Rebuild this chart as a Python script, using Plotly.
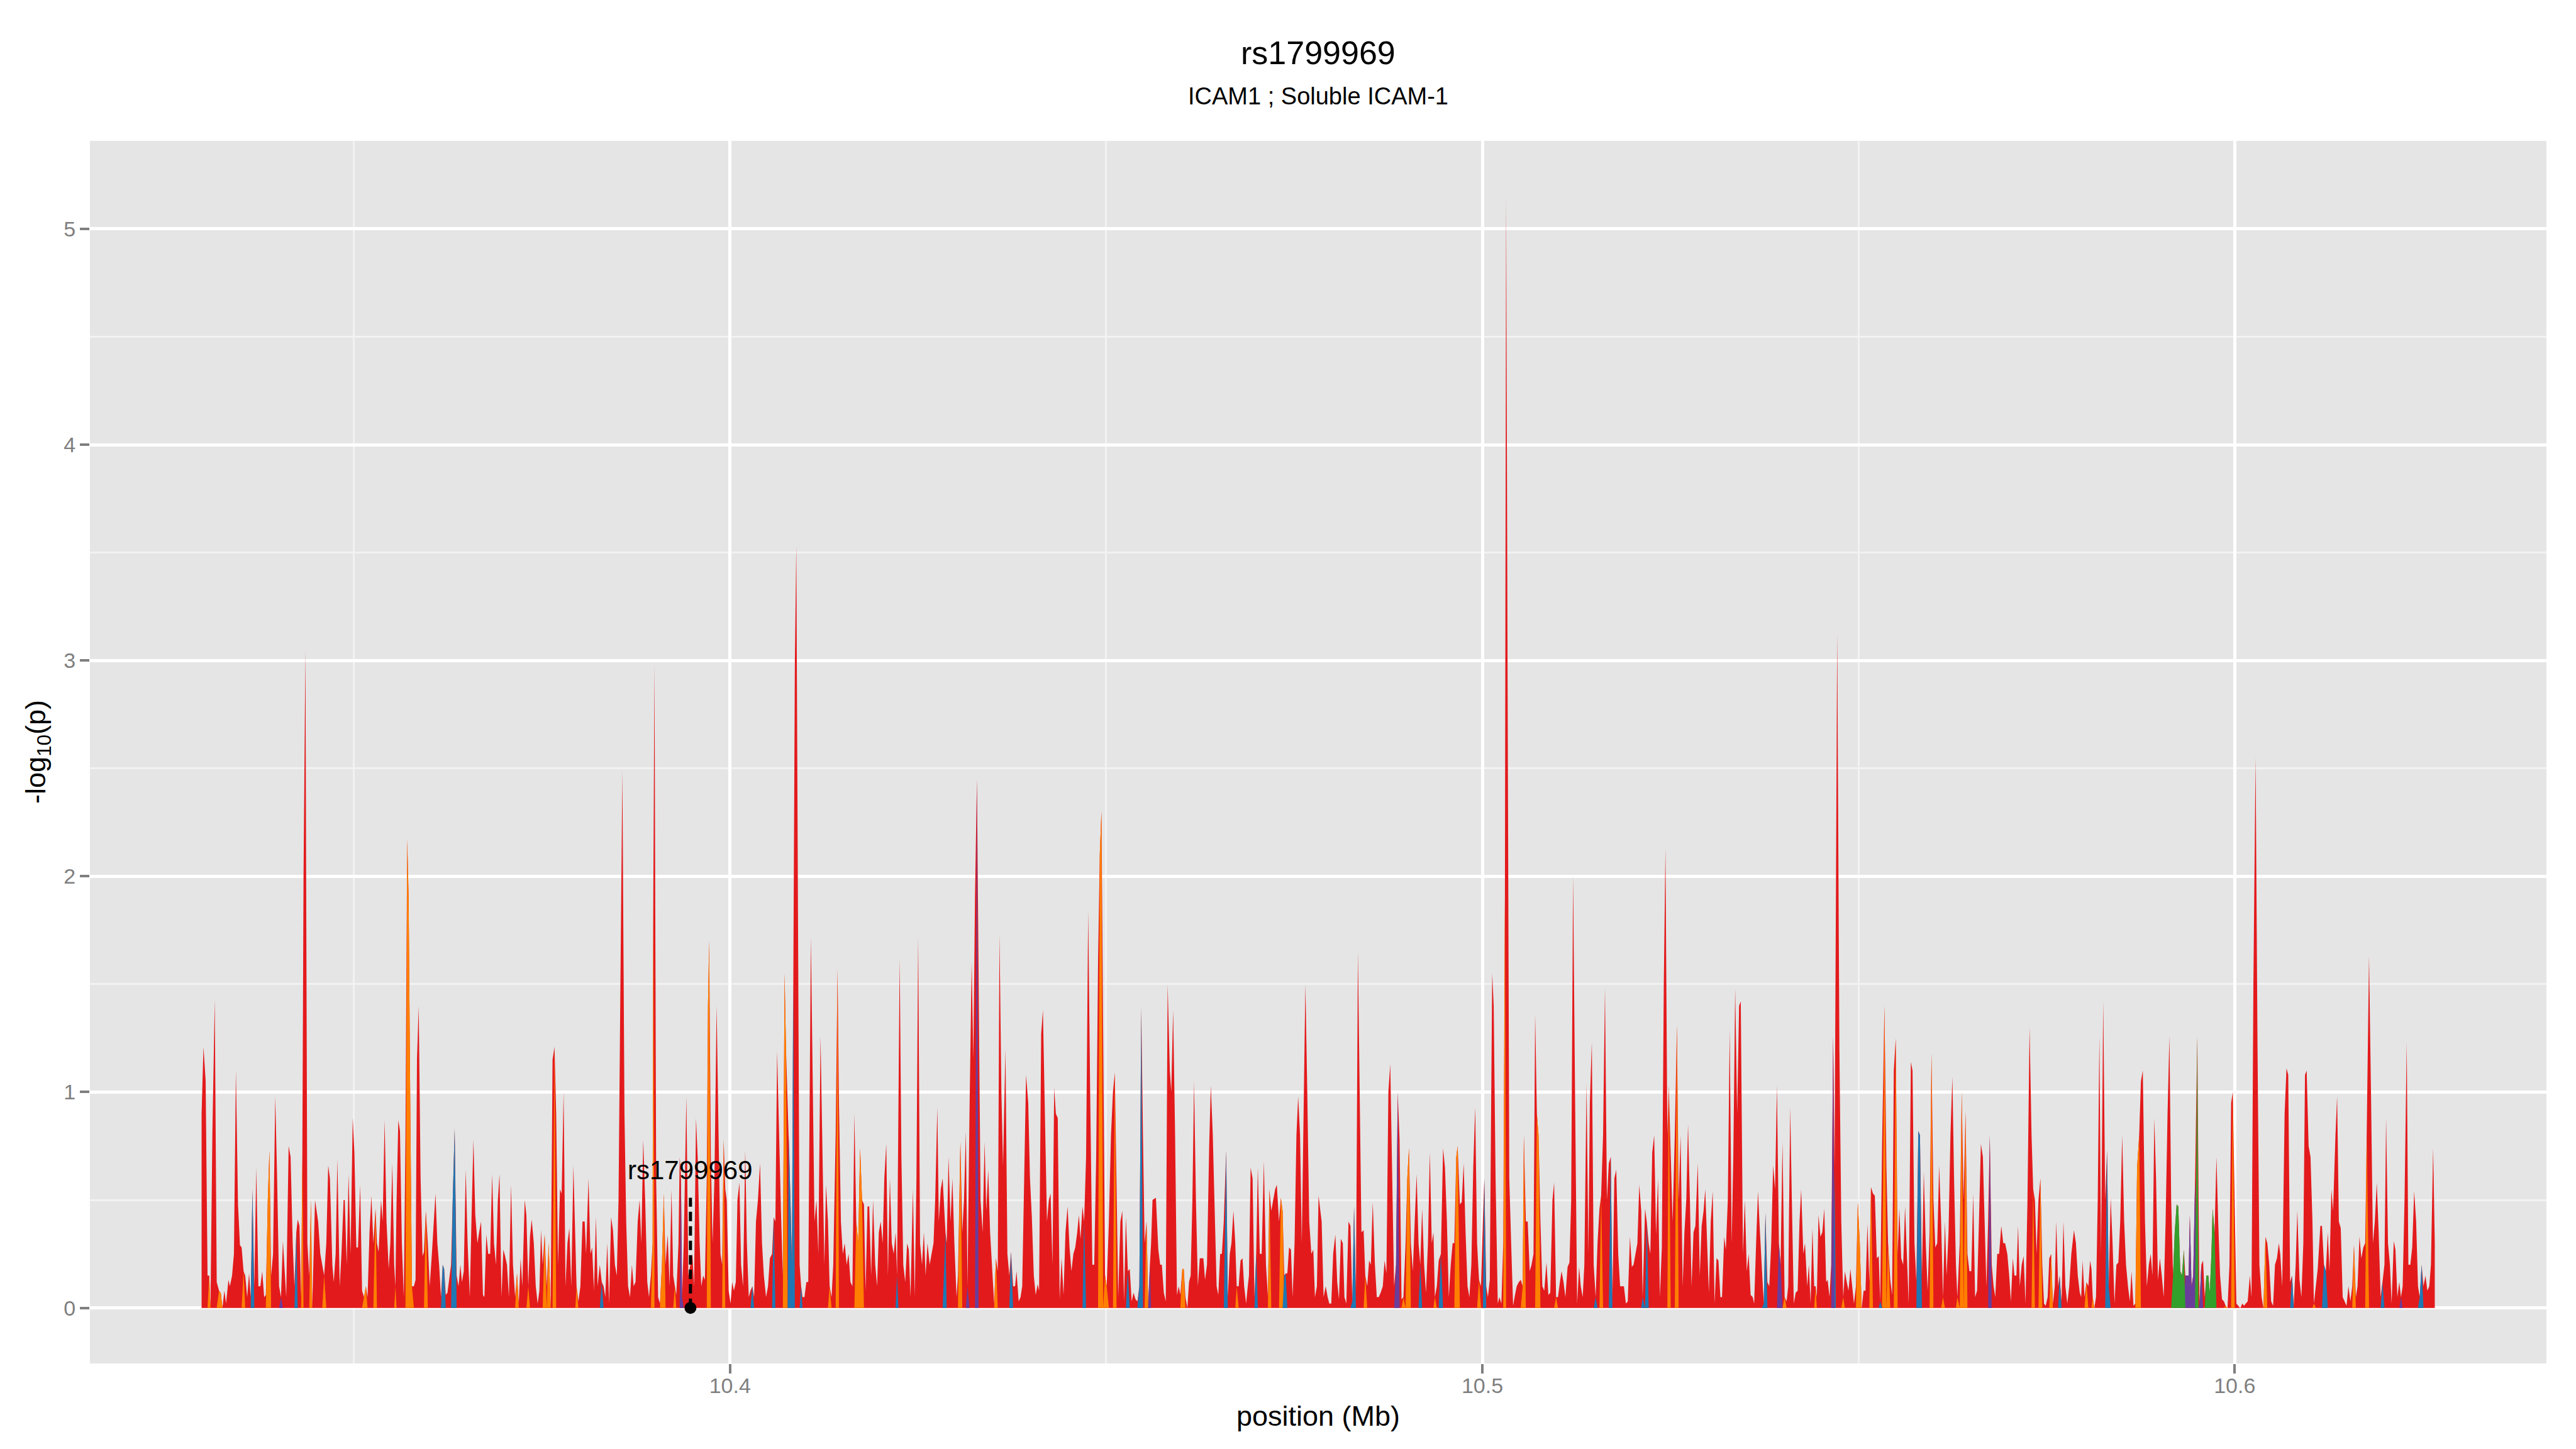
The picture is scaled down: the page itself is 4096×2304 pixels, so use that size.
import plotly.graph_objects as go

# ---------------- data (position in kb past 10 Mb, -log10(p)) ----------------
snps_328_378 = [(329.76,0.90),(330.01,1.21),(330.30,1.05),(330.55,0.15),(330.78,0.15),(330.94,0.00),(331.19,0.80),(331.51,1.43),(331.77,0.12),(332.08,0.08),(332.31,0.07),(332.53,0.00),(332.79,0.08),(333.01,0.02),(333.33,0.13),(333.52,0.10),(333.81,0.15),(334.06,0.25),(334.32,1.10),(334.60,0.48),(334.86,0.29),(335.08,0.28),(335.34,0.17),(335.56,0.15),(335.82,0.05),(336.07,0.16),(336.29,0.05),(336.52,0.55),(336.77,0.10),(337.03,0.65),(337.31,0.10),(337.57,0.10),(337.82,0.17),(338.08,0.05),(338.30,0.06),(338.56,0.50),(338.78,0.73),(339.00,0.15),(339.26,0.25),(339.55,0.98),(339.80,0.60),(340.06,0.10),(340.31,0.05),(340.57,0.31),(341.01,0.05),(341.33,0.75),(341.59,0.70),(341.87,0.30),(342.10,0.10),(342.35,0.35),(342.54,0.41),(342.77,0.38),(342.99,0.05),(343.15,0.70),(343.31,2.00),(343.56,3.05),(343.82,0.30),(344.07,0.15),(344.30,0.50),(344.46,0.00),(344.84,0.50),(345.25,0.40),(345.54,0.25),(345.80,0.20),(346.05,0.15),(346.34,0.30),(346.59,0.66),(346.82,0.60),(347.14,0.20),(347.33,0.12),(347.58,0.25),(347.81,0.69),(348.12,0.10),(348.35,0.25),(348.64,0.50),(348.79,0.50),(349.05,0.20),(349.30,0.62),(349.56,0.25),(349.85,0.88),(350.07,0.72),(350.33,0.28),(350.55,0.28),(350.84,0.57),(351.09,0.08),(351.35,0.05),(351.60,0.10),(351.82,0.05),(352.08,0.35),(352.33,0.52),(352.59,0.30),(352.88,0.46),(353.07,0.30),(353.29,0.26),(353.61,0.50),(353.83,0.40),(354.09,0.87),(354.34,0.40),(354.63,0.18),(354.85,0.30),(355.11,0.67),(355.36,0.20),(355.52,0.10),(355.68,0.50),(355.91,0.87),(356.13,0.82),(356.38,0.30),(356.64,0.05),(356.86,0.80),(357.09,2.17),(357.28,1.90),(357.53,0.80),(357.72,0.10),(357.98,0.10),(358.20,0.13),(358.39,1.15),(358.62,1.40),(358.87,0.60),(359.13,0.24),(359.32,0.26),(359.57,0.45),(359.83,0.30),(360.08,0.10),(360.37,0.25),(360.63,0.42),(360.85,0.53),(361.10,0.30),(361.33,0.20),(361.58,0.05),(361.81,0.20),(362.00,0.18),(362.22,0.06),(362.44,0.07),(362.70,0.15),(362.92,0.20),(363.14,0.50),(363.40,0.83),(363.66,0.15),(363.91,0.10),(364.17,0.20),(364.36,0.12),(364.61,0.17),(364.87,0.64),(365.12,0.30),(365.41,0.05),(365.63,0.40),(365.89,0.78),(366.14,0.43),(366.43,0.30),(366.65,0.35),(366.91,0.40),(367.16,0.06),(367.35,0.05),(367.61,0.34),(367.86,0.25),(368.12,0.25),(368.38,0.62),(368.63,0.30),(368.89,0.20),(369.14,0.50),(369.36,0.62),(369.62,0.05),(369.87,0.27),(370.10,0.24),(370.35,0.20),(370.61,0.05),(370.89,0.57),(371.15,0.20),(371.44,0.05),(371.69,0.16),(371.92,0.02),(372.17,0.23),(372.39,0.10),(372.71,0.50),(372.93,0.43),(373.19,0.10),(373.41,0.33),(373.64,0.41),(373.92,0.30),(374.18,0.10),(374.43,0.02),(374.66,0.08),(374.88,0.36),(375.10,0.20),(375.36,0.34),(375.64,0.10),(375.90,0.30),(376.16,0.00),(376.41,1.15),(376.67,1.21),(376.89,0.90),(377.14,0.20),(377.40,0.55),(377.62,0.53),(377.88,1.00),(378.13,0.10),(378.39,0.30)]

snps_378_428 = [(378.64,0.37),(378.90,0.10),(379.18,0.66),(379.44,0.35),(379.60,0.10),(379.85,0.03),(380.11,0.10),(380.39,0.40),(380.68,0.40),(380.87,0.25),(381.19,0.60),(381.45,0.25),(381.67,0.28),(381.92,0.08),(382.18,0.42),(382.40,0.10),(382.69,0.20),(382.95,0.12),(383.20,0.10),(383.42,0.05),(383.68,0.30),(383.93,0.02),(384.19,0.42),(384.44,0.36),(384.70,0.20),(384.95,0.15),(385.18,0.50),(385.43,1.50),(385.69,2.49),(385.97,0.90),(386.20,0.40),(386.45,0.10),(386.71,0.05),(386.96,0.20),(387.19,0.10),(387.44,0.12),(387.73,0.40),(387.98,0.50),(388.21,0.30),(388.46,0.78),(388.72,0.50),(389.00,0.12),(389.23,0.05),(389.48,0.15),(389.71,0.30),(389.80,1.90),(389.96,2.98),(390.18,0.60),(390.44,0.05),(390.69,0.02),(390.95,0.20),(391.20,0.53),(391.43,0.20),(391.71,0.34),(391.97,0.10),(392.22,0.55),(392.45,0.15),(392.67,0.10),(392.86,0.06),(393.15,0.30),(393.31,0.70),(393.47,0.62),(393.63,0.05),(393.85,0.30),(394.20,0.98),(394.46,0.15),(394.74,0.20),(395.00,0.25),(395.22,0.10),(395.48,0.88),(395.70,0.70),(395.96,0.30),(396.18,0.10),(396.43,0.15),(396.66,0.13),(396.91,0.60),(397.07,1.40),(397.23,1.70),(397.45,0.70),(397.68,0.30),(397.93,0.60),(398.22,1.40),(398.48,0.80),(398.73,0.25),(398.95,0.20),(399.15,0.78),(399.37,0.55),(399.56,0.50),(399.82,0.08),(400.07,0.02),(400.29,0.12),(400.52,0.08),(400.77,0.12),(400.99,0.50),(401.25,0.58),(401.47,0.20),(401.73,0.10),(402.02,0.73),(402.24,0.30),(402.49,0.05),(402.72,0.08),(402.97,0.10),(403.20,0.05),(403.45,0.40),(403.71,0.50),(403.99,0.67),(404.25,0.30),(404.50,0.15),(404.79,0.05),(405.05,0.10),(405.30,0.23),(405.59,0.25),(405.81,0.42),(406.03,0.40),(406.26,1.19),(406.51,0.80),(406.77,0.45),(407.02,0.15),(407.25,1.55),(407.44,1.20),(407.66,0.95),(407.82,0.80),(408.04,0.50),(408.23,0.20),(408.39,1.50),(408.62,3.00),(408.81,3.53),(409.00,2.00),(409.25,0.20),(409.45,0.10),(409.64,0.05),(409.89,0.05),(410.15,0.12),(410.40,0.12),(410.75,1.72),(411.01,1.00),(411.23,0.40),(411.49,0.50),(411.74,0.25),(412.03,1.26),(412.28,0.70),(412.54,0.20),(412.76,0.57),(413.02,0.40),(413.24,0.10),(413.50,0.05),(413.72,0.20),(414.04,0.80),(414.29,1.57),(414.48,0.95),(414.74,0.40),(414.99,0.25),(415.25,0.30),(415.50,0.20),(415.76,0.25),(416.01,0.12),(416.27,0.10),(416.53,0.90),(416.78,0.40),(417.04,0.30),(417.29,0.74),(417.55,0.50),(417.80,0.48),(418.02,0.08),(418.28,0.47),(418.50,0.47),(418.76,0.15),(419.01,0.50),(419.30,0.20),(419.55,0.10),(419.78,0.35),(420.03,0.40),(420.29,0.30),(420.51,0.60),(420.77,0.76),(420.99,0.15),(421.25,0.60),(421.50,0.30),(421.76,0.25),(422.01,0.35),(422.20,0.15),(422.39,0.90),(422.55,1.62),(422.78,0.70),(423.03,0.20),(423.29,0.12),(423.54,0.30),(423.76,0.27),(423.99,0.05),(424.31,0.55),(424.56,0.05),(424.78,0.60),(425.01,1.72),(425.26,0.30),(425.52,0.20),(425.77,0.35),(426.00,0.15),(426.25,0.30),(426.54,0.20),(426.79,0.25),(427.05,0.30),(427.27,0.50),(427.56,0.93),(427.75,0.40),(428.01,0.55),(428.26,0.60)]

snps_428_478 = [(428.64,0.35),(428.80,0.30),(429.05,0.70),(429.31,0.40),(429.56,0.60),(429.82,0.30),(430.11,0.05),(430.30,0.15),(430.49,0.50),(430.62,0.77),(430.87,0.35),(431.10,0.50),(431.35,0.82),(431.57,0.10),(431.83,0.90),(432.12,1.60),(432.34,1.15),(432.56,1.90),(432.82,2.45),(433.04,1.60),(433.30,0.50),(433.58,0.35),(433.84,0.77),(434.06,0.45),(434.32,0.64),(434.57,0.35),(434.86,0.15),(435.11,0.02),(435.34,0.23),(435.59,0.17),(435.82,1.73),(436.07,1.00),(436.29,0.66),(436.61,1.20),(436.87,0.25),(437.12,0.15),(437.35,0.26),(437.63,0.10),(437.89,0.10),(438.08,0.17),(438.37,0.03),(438.62,0.05),(438.84,0.10),(439.10,0.60),(439.35,1.08),(439.64,0.95),(439.87,0.60),(440.12,0.42),(440.38,0.15),(440.63,0.06),(440.89,0.11),(441.08,0.08),(441.36,1.27),(441.59,1.38),(441.84,0.90),(442.13,0.40),(442.38,0.50),(442.61,0.53),(442.86,0.20),(443.09,1.02),(443.31,0.90),(443.56,0.88),(443.82,0.04),(444.07,0.23),(444.33,0.06),(444.59,0.35),(444.87,0.47),(445.13,0.28),(445.38,0.17),(445.64,0.25),(445.89,0.28),(446.15,0.35),(446.37,0.43),(446.59,0.32),(446.85,0.47),(447.07,0.40),(447.33,0.70),(447.61,1.84),(447.87,1.00),(448.16,0.20),(448.41,0.20),(448.67,0.70),(448.92,1.60),(449.15,2.10),(449.37,2.30),(449.59,1.20),(449.85,0.15),(450.07,0.10),(450.36,0.40),(450.64,0.80),(450.90,1.00),(451.15,1.09),(451.38,0.60),(451.60,0.05),(451.89,0.40),(452.14,0.45),(452.37,0.03),(452.62,0.42),(452.88,0.17),(453.13,0.18),(453.39,0.03),(453.64,0.07),(453.90,0.04),(454.15,0.03),(454.41,0.10),(454.66,1.39),(454.89,0.80),(455.11,0.30),(455.36,0.40),(455.59,0.02),(455.81,0.20),(455.97,0.30),(456.16,0.50),(456.61,0.51),(456.93,0.27),(457.18,0.20),(457.40,0.20),(457.66,0.07),(457.92,0.03),(458.17,1.50),(458.46,1.10),(458.65,1.00),(458.90,1.38),(459.16,0.80),(459.41,0.06),(459.64,0.10),(459.86,0.06),(460.12,0.18),(460.31,0.18),(460.53,0.05),(460.79,0.00),(461.01,0.12),(461.23,0.15),(461.46,0.50),(461.68,1.05),(461.93,0.50),(462.19,0.10),(462.44,0.23),(462.70,0.23),(462.92,0.23),(463.14,0.13),(463.40,0.20),(463.69,0.75),(463.91,1.03),(464.17,0.80),(464.42,0.45),(464.68,0.10),(464.90,0.06),(465.15,0.25),(465.38,0.25),(465.63,0.40),(465.95,0.73),(466.17,0.05),(466.43,0.25),(466.65,0.30),(466.91,0.45),(467.16,0.30),(467.35,0.10),(467.61,0.10),(467.86,0.22),(468.12,0.23),(468.34,0.10),(468.60,0.02),(468.82,0.10),(468.98,0.15),(469.20,0.65),(469.46,0.60),(469.71,0.05),(469.94,0.25),(470.16,0.65),(470.42,0.25),(470.67,0.25),(470.96,0.68),(471.24,0.20),(471.50,0.05),(471.69,0.55),(471.95,0.45),(472.20,0.50),(472.46,0.55),(472.68,0.57),(472.97,0.40),(473.22,0.51),(473.45,0.45),(473.67,0.15),(473.86,0.16),(474.08,0.16),(474.31,0.28),(474.56,0.27),(474.78,0.05),(475.04,0.30),(475.29,0.80),(475.52,0.98),(475.77,0.80),(476.00,0.30),(476.22,0.90),(476.48,1.50),(476.73,1.00),(476.99,0.40),(477.27,0.25),(477.53,0.27),(477.75,0.05),(478.01,0.10),(478.23,0.52)]

snps_478_528 = [(478.64,0.40),(478.90,0.05),(479.18,0.10),(479.44,0.05),(479.66,0.02),(479.92,0.02),(480.17,0.25),(480.46,0.34),(480.71,0.12),(480.94,0.04),(481.19,0.32),(481.45,0.30),(481.67,0.05),(481.92,0.02),(482.21,0.40),(482.47,0.38),(482.72,0.03),(482.95,0.47),(483.20,0.08),(483.46,1.65),(483.68,1.00),(483.93,0.35),(484.22,0.36),(484.44,0.15),(484.70,0.10),(484.95,0.22),(485.18,0.20),(485.43,0.49),(485.72,0.20),(485.97,0.05),(486.23,0.05),(486.48,0.07),(486.77,0.10),(487.00,0.22),(487.25,0.16),(487.51,1.00),(487.76,1.13),(488.02,0.60),(488.27,0.10),(488.53,0.20),(488.75,1.00),(489.00,0.78),(489.26,0.04),(489.51,0.05),(489.80,0.30),(490.02,0.60),(490.25,0.74),(490.50,0.30),(490.76,0.17),(491.01,0.40),(491.27,0.62),(491.52,0.30),(491.75,0.20),(492.00,0.46),(492.26,0.20),(492.51,0.07),(492.77,0.30),(493.02,0.72),(493.28,0.30),(493.50,0.35),(493.69,0.05),(493.95,0.10),(494.20,0.22),(494.49,0.25),(494.78,0.74),(495.03,0.65),(495.29,0.40),(495.54,0.05),(495.80,0.20),(496.05,0.30),(496.28,0.30),(496.53,0.70),(496.72,0.75),(497.01,0.48),(497.26,0.49),(497.52,0.67),(497.77,0.35),(498.03,0.10),(498.28,0.05),(498.54,0.20),(498.79,0.65),(499.05,0.93),(499.30,0.30),(499.56,0.13),(499.82,0.10),(500.07,0.40),(500.26,0.60),(500.52,0.10),(500.74,0.05),(500.99,0.13),(501.31,1.55),(501.51,1.40),(501.76,0.60),(502.05,0.02),(502.27,0.05),(502.53,0.02),(502.78,0.30),(503.00,1.90),(503.16,5.15),(503.35,3.00),(503.58,0.60),(503.83,0.30),(504.09,0.01),(504.34,0.06),(504.57,0.10),(504.85,0.12),(505.11,0.13),(505.36,0.10),(505.52,0.80),(505.78,0.40),(506.03,0.40),(506.29,0.17),(506.54,0.20),(506.80,0.25),(507.02,1.36),(507.25,0.90),(507.47,0.80),(507.72,0.40),(507.98,0.10),(508.23,0.08),(508.52,0.21),(508.78,0.06),(509.03,0.07),(509.32,0.50),(509.54,0.58),(509.80,0.05),(510.05,0.05),(510.31,0.12),(510.53,0.17),(510.79,0.12),(511.04,0.05),(511.33,0.19),(511.58,0.21),(511.81,0.50),(512.06,2.00),(512.32,1.00),(512.60,0.02),(512.86,0.19),(513.08,0.10),(513.34,0.05),(513.56,0.20),(513.85,1.04),(514.10,0.25),(514.29,0.95),(514.55,1.23),(514.80,0.20),(515.06,0.05),(515.31,0.30),(515.57,0.46),(515.79,0.52),(516.05,0.80),(516.30,1.48),(516.56,0.50),(516.81,0.67),(517.07,0.70),(517.29,0.05),(517.55,0.60),(517.80,0.64),(518.06,0.25),(518.31,0.10),(518.57,0.10),(518.82,0.10),(519.08,0.02),(519.33,0.03),(519.62,0.33),(519.87,0.19),(520.10,0.20),(520.35,0.25),(520.61,0.30),(520.86,0.57),(521.12,0.45),(521.31,0.05),(521.63,0.46),(521.85,0.40),(522.11,0.30),(522.33,0.25),(522.58,0.72),(522.84,0.80),(523.09,0.34),(523.35,0.60),(523.60,0.05),(523.86,0.28),(524.12,1.50),(524.34,2.13),(524.59,0.80),(524.78,1.03),(525.04,0.70),(525.29,0.40),(525.58,0.80),(525.87,1.31),(526.09,0.50),(526.35,0.80),(526.63,0.10),(526.86,0.35),(527.11,0.50),(527.34,0.85),(527.59,0.50),(527.81,0.10),(528.07,0.35),(528.32,0.38)]

snps_528_578 = [(528.64,0.67),(528.90,0.15),(529.15,0.38),(529.41,0.45),(529.63,0.55),(529.88,0.30),(530.11,0.07),(530.36,0.40),(530.62,0.54),(530.87,0.02),(531.13,0.23),(531.38,0.22),(531.64,0.05),(531.86,0.05),(532.15,0.33),(532.37,0.27),(532.63,0.50),(532.88,1.29),(533.14,0.30),(533.36,0.70),(533.61,1.48),(533.87,0.90),(534.13,1.40),(534.35,1.42),(534.64,0.25),(534.89,0.50),(535.15,0.17),(535.40,0.25),(535.66,0.06),(535.94,0.05),(536.13,0.02),(536.39,0.30),(536.64,0.54),(536.90,0.35),(537.15,0.20),(537.41,0.02),(537.63,0.44),(537.89,0.12),(538.14,0.10),(538.40,0.30),(538.65,0.66),(538.91,0.55),(539.16,1.03),(539.42,0.30),(539.64,0.20),(539.90,0.77),(540.18,0.05),(540.44,0.03),(540.66,0.10),(540.92,0.93),(541.14,0.50),(541.40,0.02),(541.65,0.07),(541.91,0.08),(542.16,0.40),(542.38,0.55),(542.67,0.25),(542.89,0.30),(543.18,0.10),(543.40,0.20),(543.63,0.02),(543.88,0.37),(544.11,0.10),(544.30,0.10),(544.46,0.05),(544.68,0.43),(544.94,0.33),(545.19,0.35),(545.45,0.46),(545.70,0.12),(545.89,0.13),(546.15,0.05),(546.37,0.20),(546.63,1.26),(546.82,0.65),(546.98,1.90),(547.17,3.13),(547.46,1.20),(547.71,0.40),(547.97,0.05),(548.19,0.17),(548.44,0.12),(548.67,0.08),(548.92,0.18),(549.15,0.10),(549.40,0.02),(549.66,0.10),(549.91,0.49),(550.17,0.30),(550.42,0.00),(550.68,0.08),(550.93,0.08),(551.19,0.39),(551.44,0.12),(551.66,0.56),(551.92,0.53),(552.17,0.52),(552.43,0.23),(552.69,0.24),(552.88,0.03),(553.13,0.75),(553.45,1.40),(553.71,0.65),(553.93,0.30),(554.22,0.13),(554.47,0.06),(554.69,1.10),(554.95,1.25),(555.20,0.25),(555.43,0.46),(555.68,0.23),(555.94,0.20),(556.19,0.47),(556.45,0.20),(556.67,0.02),(556.96,1.14),(557.18,1.10),(557.44,0.30),(557.69,0.12),(557.95,0.82),(558.17,0.80),(558.43,0.15),(558.68,0.63),(558.94,0.30),(559.19,0.08),(559.45,0.35),(559.70,1.18),(559.96,0.50),(560.21,0.28),(560.47,0.30),(560.72,0.66),(560.98,0.40),(561.23,0.05),(561.49,0.40),(561.71,0.15),(561.97,0.35),(562.22,0.80),(562.48,1.07),(562.70,0.60),(562.95,0.20),(563.14,0.05),(563.46,0.30),(563.72,1.00),(563.97,0.50),(564.23,0.91),(564.48,0.25),(564.74,0.17),(564.99,0.17),(565.25,0.53),(565.50,0.05),(565.76,0.08),(566.01,0.40),(566.27,0.76),(566.53,0.70),(566.78,0.40),(567.00,0.10),(567.23,0.40),(567.45,0.80),(567.71,0.20),(567.96,0.10),(568.18,0.05),(568.44,0.25),(568.69,0.25),(568.98,0.38),(569.24,0.30),(569.49,0.30),(569.78,0.25),(570.03,0.15),(570.26,0.03),(570.51,0.23),(570.73,0.15),(570.99,0.15),(571.21,0.38),(571.44,0.10),(571.69,0.20),(571.95,0.24),(572.20,0.02),(572.46,0.50),(572.74,1.30),(573.00,0.80),(573.22,0.55),(573.45,0.50),(573.67,0.25),(573.92,0.50),(574.18,0.60),(574.43,0.20),(574.66,0.02),(574.88,0.01),(575.14,0.05),(575.36,0.23),(575.61,0.25),(575.84,0.02),(576.09,0.10),(576.28,0.40),(576.54,0.10),(576.73,0.15),(576.99,0.03),(577.24,0.40),(577.50,0.10),(577.75,0.02),(578.01,0.10),(578.29,0.25)]

snps_578_627 = [(578.64,0.36),(578.90,0.30),(579.15,0.15),(579.41,0.07),(579.60,0.05),(579.79,0.22),(580.04,0.05),(580.30,0.12),(580.55,0.10),(580.78,0.22),(580.97,0.18),(581.13,0.05),(581.35,0.00),(581.57,0.05),(581.80,0.50),(582.02,1.26),(582.24,0.25),(582.53,1.42),(582.79,0.50),(583.04,0.73),(583.26,0.10),(583.52,0.51),(583.77,0.30),(584.03,0.02),(584.28,0.20),(584.54,0.21),(584.79,0.40),(585.05,0.80),(585.31,0.40),(585.56,0.20),(585.82,0.10),(586.07,0.03),(586.29,0.17),(586.55,0.01),(586.80,0.02),(587.03,0.65),(587.31,0.80),(587.54,1.05),(587.79,1.10),(588.08,0.40),(588.33,0.10),(588.59,0.20),(588.84,0.25),(589.07,0.15),(589.32,0.88),(589.55,0.60),(589.80,0.13),(590.06,0.23),(590.31,0.15),(590.57,0.05),(590.82,0.40),(591.08,0.90),(591.33,1.26),(591.56,0.50),(591.81,0.15),(592.03,0.35),(592.29,0.48),(592.51,0.47),(592.77,0.17),(592.99,0.15),(593.25,0.27),(593.44,0.15),(593.66,0.15),(593.88,0.15),(594.04,0.43),(594.27,0.10),(594.49,0.15),(594.74,0.60),(595.03,1.26),(595.19,0.60),(595.32,0.02),(595.57,0.20),(595.80,0.22),(596.02,0.05),(596.24,0.15),(596.50,0.15),(596.69,0.07),(596.91,0.25),(597.07,0.46),(597.33,0.35),(597.58,0.70),(597.81,0.40),(598.06,0.15),(598.32,0.04),(598.57,0.03),(598.80,0.01),(599.05,0.00),(599.31,0.20),(599.53,0.95),(599.75,1.00),(600.01,0.40),(600.23,0.02),(600.48,0.01),(600.74,0.00),(601.03,0.02),(601.25,0.01),(601.47,0.02),(601.73,0.03),(602.02,0.15),(602.24,0.05),(602.49,1.50),(602.78,2.55),(603.04,1.20),(603.29,0.20),(603.58,0.05),(603.83,0.00),(604.09,0.33),(604.34,0.30),(604.60,0.20),(604.85,0.03),(605.11,0.01),(605.36,0.20),(605.62,0.23),(605.87,0.30),(606.06,0.25),(606.32,0.10),(606.64,0.90),(606.89,1.11),(607.12,1.08),(607.37,0.12),(607.63,0.15),(607.85,0.01),(608.11,0.20),(608.33,0.45),(608.62,0.13),(608.87,0.05),(609.13,0.30),(609.35,1.08),(609.57,1.10),(609.83,0.75),(610.08,0.70),(610.34,0.40),(610.53,0.02),(610.79,0.10),(611.04,0.18),(611.39,0.38),(611.61,0.38),(611.87,0.20),(612.12,0.17),(612.38,0.35),(612.60,0.17),(612.86,0.55),(613.08,0.45),(613.40,0.80),(613.62,0.98),(613.85,0.40),(614.10,0.37),(614.36,0.05),(614.61,0.03),(614.87,0.01),(615.12,0.10),(615.38,0.03),(615.63,0.10),(615.86,0.29),(616.11,0.05),(616.33,0.10),(616.59,0.33),(616.84,0.23),(617.10,0.28),(617.35,0.30),(617.55,0.80),(617.86,1.63),(618.12,1.00),(618.38,0.30),(618.63,0.40),(618.89,0.58),(619.14,0.35),(619.40,0.05),(619.65,0.12),(619.91,0.20),(620.13,0.88),(620.38,0.30),(620.64,0.20),(620.86,0.02),(621.15,0.31),(621.37,0.27),(621.63,0.05),(621.88,0.12),(622.11,0.05),(622.33,0.10),(622.58,0.50),(622.87,1.23),(623.09,0.20),(623.35,0.20),(623.60,0.28),(623.86,0.54),(624.12,0.40),(624.37,0.10),(624.60,0.05),(624.85,0.20),(625.10,0.10),(625.36,0.15),(625.61,0.08),(625.87,0.10),(626.09,0.20),(626.38,0.74),(626.60,0.30)]

# LD class of each SNP (kb positions); all others are the top (red) class
ld_orange = [330.78,332.08,332.31,335.34,338.56,338.78,343.15,344.30,346.05,351.35,351.60,352.88,355.52,357.09,357.28,357.53,357.72,359.57,371.69,373.19,375.36,375.90,376.67,
             379.60,389.71,389.80,390.95,391.20,392.67,397.07,397.23,399.15,407.25,407.44,413.24,414.29,416.78,417.04,417.29,417.55,
             430.49,430.62,435.34,449.15,449.37,449.85,450.07,451.15,455.36,460.12,460.31,467.35,471.69,473.22,473.45,
             484.44,489.51,490.02,490.25,493.69,496.53,496.72,499.56,503.00,505.36,505.52,507.25,507.47,509.80,515.79,524.78,525.87,
             540.18,544.30,547.97,549.91,550.17,551.66,553.45,553.93,554.95,559.70,561.23,563.14,563.72,564.23,573.22,574.18,575.61,
             580.30,581.13,587.03,587.31,598.80,599.75,604.09,610.53,615.86,617.55]
ld_blue = [336.52,342.35,361.81,362.00,363.14,363.40,
           382.95,402.97,405.81,407.82,408.04,408.23,408.39,409.45,422.20,
           428.64,437.35,447.07,452.88,454.41,454.66,465.95,469.94,473.67,473.86,
           482.72,482.95,491.75,494.49,500.26,515.06,517.07,521.31,521.85,
           537.41,537.63,546.82,552.88,557.95,558.17,576.73,
           583.04,583.26,607.63,611.87,612.12,619.65,624.60,624.85]
ld_purple = [340.31,393.47,393.63,431.57,432.82,455.81,488.53,488.75,539.42,539.64,546.63,567.45,
             593.44,593.66,593.88,594.04,594.27,594.49,594.74,595.32,595.57,622.11]
ld_green = [591.81,592.03,592.29,592.51,592.77,592.99,593.25,595.03,596.24,596.50,596.69,596.91,597.07,597.33]

lead_snp = "rs1799969"
lead_pos_kb = 394.74
lead_line_top = 0.51
lead_label_y = 0.64
title_text = "rs1799969"
subtitle_text = "ICAM1 ; Soluble ICAM-1"
x_tick_vals = [10.4, 10.5, 10.6]
x_tick_text = ["10.4", "10.5", "10.6"]
x_minor_vals = [10.35, 10.45, 10.55]
y_tick_vals = [0, 1, 2, 3, 4, 5]
y_minor_vals = [0.5, 1.5, 2.5, 3.5, 4.5]

# ---------------- build ----------------
snps = snps_328_378 + snps_378_428 + snps_428_478 + snps_478_528 + snps_528_578 + snps_578_627
pos_mb = [10 + p / 1000.0 for p, _ in snps]
logp = [v for _, v in snps]
keys = [round(p, 2) for p, _ in snps]

COL = {"red": "#E31A1C", "orange": "#FF7F00", "blue": "#1F78B4", "purple": "#6A3D9A", "green": "#33A02C"}
FONT = "Liberation Sans, Arial, Helvetica, sans-serif"

fig = go.Figure()
fig.add_trace(go.Scatter(x=pos_mb, y=logp, mode="lines", line=dict(width=0, color=COL["red"]),
                         fill="tozeroy", fillcolor=COL["red"], hoverinfo="skip", showlegend=False))
for name, members in [("orange", ld_orange), ("blue", ld_blue), ("purple", ld_purple), ("green", ld_green)]:
    s = set(round(m, 2) for m in members)
    yy = [v if k in s else 0.0 for k, v in zip(keys, logp)]
    fig.add_trace(go.Scatter(x=pos_mb, y=yy, mode="lines", line=dict(width=0, color=COL[name]),
                             fill="tozeroy", fillcolor=COL[name], hoverinfo="skip", showlegend=False))

lead_x = 10 + lead_pos_kb / 1000.0
fig.add_trace(go.Scatter(x=[lead_x, lead_x], y=[0, lead_line_top], mode="lines",
                         line=dict(color="black", width=5, dash="15px,8px"), hoverinfo="skip", showlegend=False))
fig.add_trace(go.Scatter(x=[lead_x], y=[0], mode="markers", marker=dict(color="black", size=19),
                         hoverinfo="skip", showlegend=False))

xmin, xmax = min(pos_mb), max(pos_mb)
ymin, ymax = 0.0, max(logp)
xpad = 0.05 * (xmax - xmin)
ypad = 0.05 * (ymax - ymin)

# the page body has an 8px default margin, so the margins are shifted by 8px to compensate
fig.update_layout(
    width=4096, height=2304,
    margin=dict(l=135, r=55, t=216, b=144),
    paper_bgcolor="white", plot_bgcolor="#E5E5E5",
    showlegend=False,
    font=dict(family=FONT, color="black"),
    annotations=[
        dict(text=title_text, xref="paper", yref="paper", x=0.5, y=1.072, xanchor="center", yanchor="middle",
             showarrow=False, font=dict(size=52, color="black", family=FONT)),
        dict(text=subtitle_text, xref="paper", yref="paper", x=0.5, y=1.0364, xanchor="center", yanchor="middle",
             showarrow=False, font=dict(size=38, color="black", family=FONT)),
        dict(text="position (Mb)", xref="paper", yref="paper", x=0.5, y=-0.043, xanchor="center", yanchor="middle",
             showarrow=False, font=dict(size=45, color="black", family=FONT)),
        dict(text="-log<sub>10</sub>(p)", xref="paper", yref="paper", x=-0.0215, y=0.5, xanchor="center",
             yanchor="middle", textangle=-90, showarrow=False, font=dict(size=45, color="black", family=FONT)),
        dict(text=lead_snp, xref="x", yref="y", x=lead_x, y=lead_label_y, xanchor="center", yanchor="middle",
             showarrow=False, font=dict(size=42, color="black", family=FONT)),
    ],
)
fig.update_xaxes(range=[xmin - xpad, xmax + xpad], tickvals=x_tick_vals, ticktext=x_tick_text,
                 ticks="outside", ticklen=15, tickwidth=4, tickcolor="#7F7F7F", ticklabelstandoff=-10,
                 tickfont=dict(size=34, color="#7F7F7F", family=FONT),
                 showgrid=True, gridcolor="white", gridwidth=5, zeroline=False, showline=False,
                 minor=dict(tickvals=x_minor_vals, showgrid=True, gridcolor="#F2F2F2", gridwidth=2.5, ticks=""))
fig.update_yaxes(range=[ymin - ypad, ymax + ypad], tickvals=y_tick_vals,
                 ticks="outside", ticklen=15, tickwidth=4, tickcolor="#7F7F7F",
                 tickfont=dict(size=34, color="#7F7F7F", family=FONT),
                 showgrid=True, gridcolor="white", gridwidth=5, zeroline=False, showline=False,
                 minor=dict(tickvals=y_minor_vals, showgrid=True, gridcolor="#F2F2F2", gridwidth=2.5, ticks=""))

fig.write_html("out.html")
